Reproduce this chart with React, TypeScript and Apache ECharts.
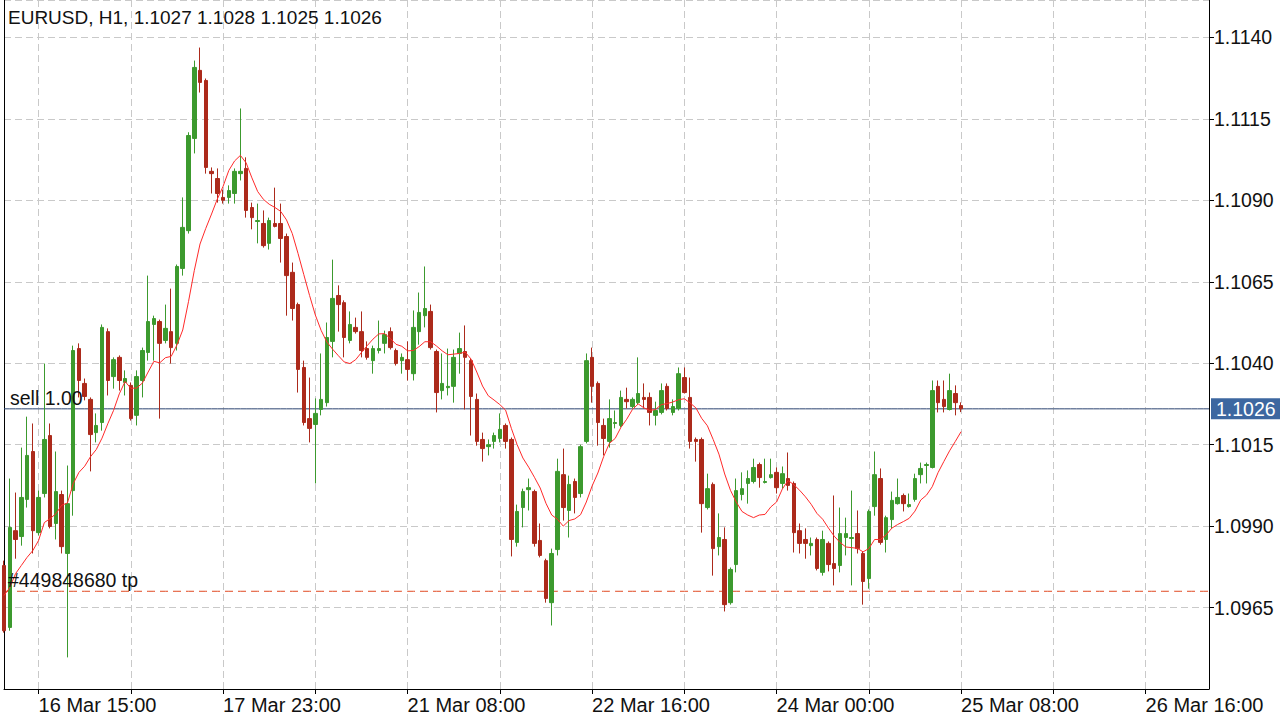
import React, { useEffect, useRef } from "react";
import * as echarts from "echarts";

const chartTitle = "EURUSD, H1, 1.1027 1.1028 1.1025 1.1026";

const opens = [
  1.09779, 1.09589, 1.09886, 1.09868, 1.09982, 1.10129, 1.09880, 1.10000, 1.10178, 1.09908,
  1.09997, 1.09816, 1.10009, 1.10445, 1.10338, 1.10289, 1.10187, 1.10218, 1.10497, 1.10359,
  1.10418, 1.10341, 1.10332, 1.10240, 1.10347, 1.10433, 1.10519, 1.10528, 1.10470, 1.10497,
  1.10461, 1.10691, 1.10807, 1.11090, 1.11299, 1.11268, 1.10989, 1.10967, 1.10909, 1.10909,
  1.10921, 1.10982, 1.10998, 1.10878, 1.10835, 1.10829, 1.10768, 1.10829, 1.10829, 1.10789,
  1.10679, 1.10580, 1.10387, 1.10230, 1.10212, 1.10258, 1.10279, 1.10467, 1.10608, 1.10586,
  1.10470, 1.10510, 1.10497, 1.10445, 1.10408, 1.10439, 1.10461, 1.10497, 1.10439, 1.10408,
  1.10411, 1.10368, 1.10497, 1.10546, 1.10559, 1.10436, 1.10316, 1.10325, 1.10329, 1.10430,
  1.10436, 1.10408, 1.10289, 1.10166, 1.10144, 1.10160, 1.10169, 1.10209, 1.10166, 1.09850,
  1.09957, 1.10012, 1.10006, 1.09856, 1.09794, 1.09665, 1.09828, 1.10058, 1.09948, 1.10037,
  1.10000, 1.10160, 1.10418, 1.10338, 1.10209, 1.10160, 1.10215, 1.10209, 1.10289, 1.10267,
  1.10279, 1.10295, 1.10295, 1.10240, 1.10249, 1.10329, 1.10249, 1.10261, 1.10356, 1.10295,
  1.10166, 1.10166, 1.09957, 1.10028, 1.09837, 1.09859, 1.09665, 1.09782, 1.09997, 1.10031,
  1.10037, 1.10089, 1.10034, 1.10049, 1.10065, 1.10031, 1.10046, 1.10031, 1.09886, 1.09859,
  1.09840, 1.09859, 1.09758, 1.09847, 1.09785, 1.09779, 1.09865, 1.09862, 1.09877, 1.09816,
  1.09739, 1.09960, 1.10046, 1.09859, 1.09920, 1.09969, 1.09994, 1.09960, 1.09982, 1.10058,
  1.10086, 1.10080, 1.10329, 1.10289, 1.10258, 1.10307, 1.10270,
];

const closes = [
  1.09579, 1.09896, 1.09859, 1.09988, 1.10117, 1.09886, 1.09988, 1.10166, 1.09899, 1.10006,
  1.09837, 1.09969, 1.10439, 1.10347, 1.10298, 1.10181, 1.10209, 1.10510, 1.10347, 1.10411,
  1.10347, 1.10353, 1.10230, 1.10359, 1.10439, 1.10528, 1.10537, 1.10461, 1.10507, 1.10448,
  1.10697, 1.10817, 1.11099, 1.11308, 1.11262, 1.11001, 1.10982, 1.10921, 1.10900, 1.10930,
  1.10989, 1.10989, 1.10869, 1.10847, 1.10838, 1.10761, 1.10838, 1.10820, 1.10783, 1.10669,
  1.10568, 1.10381, 1.10218, 1.10200, 1.10246, 1.10289, 1.10479, 1.10599, 1.10580, 1.10479,
  1.10519, 1.10497, 1.10439, 1.10418, 1.10445, 1.10445, 1.10488, 1.10448, 1.10399, 1.10418,
  1.10381, 1.10510, 1.10556, 1.10568, 1.10448, 1.10310, 1.10338, 1.10329, 1.10418, 1.10445,
  1.10418, 1.10298, 1.10160, 1.10138, 1.10150, 1.10178, 1.10197, 1.10160, 1.09859, 1.09945,
  1.10006, 1.10018, 1.09847, 1.09810, 1.09678, 1.09816, 1.10068, 1.09957, 1.10028, 1.09988,
  1.10144, 1.10408, 1.10329, 1.10218, 1.10169, 1.10230, 1.10218, 1.10295, 1.10282, 1.10289,
  1.10307, 1.10289, 1.10249, 1.10255, 1.10316, 1.10261, 1.10267, 1.10368, 1.10310, 1.10160,
  1.10160, 1.09969, 1.10015, 1.09831, 1.09865, 1.09659, 1.09767, 1.10009, 1.10015, 1.10046,
  1.10080, 1.10049, 1.10037, 1.10058, 1.10018, 1.10061, 1.10025, 1.09880, 1.09847, 1.09847,
  1.09847, 1.09770, 1.09859, 1.09782, 1.09770, 1.09877, 1.09877, 1.09865, 1.09831, 1.09730,
  1.09945, 1.10058, 1.09850, 1.09926, 1.09979, 1.09988, 1.09969, 1.09966, 1.10046, 1.10077,
  1.10089, 1.10316, 1.10279, 1.10267, 1.10316, 1.10279, 1.10260,
];

const lows = [
  1.09573, 1.09579, 1.09800, 1.09840, 1.09957, 1.09816, 1.09871, 1.09988, 1.09893, 1.09859,
  1.09816, 1.09497, 1.09932, 1.10295, 1.10286, 1.10068, 1.10157, 1.10193, 1.10301, 1.10322,
  1.10316, 1.10301, 1.10224, 1.10209, 1.10295, 1.10408, 1.10408, 1.10230, 1.10461, 1.10399,
  1.10439, 1.10669, 1.10798, 1.11044, 1.11231, 1.10982, 1.10921, 1.10893, 1.10890, 1.10890,
  1.10890, 1.10961, 1.10847, 1.10811, 1.10768, 1.10755, 1.10749, 1.10817, 1.10709, 1.10546,
  1.10531, 1.10310, 1.10209, 1.10157, 1.10031, 1.10240, 1.10267, 1.10418, 1.10497, 1.10418,
  1.10461, 1.10491, 1.10418, 1.10411, 1.10368, 1.10430, 1.10430, 1.10442, 1.10393, 1.10368,
  1.10347, 1.10347, 1.10457, 1.10510, 1.10442, 1.10249, 1.10289, 1.10301, 1.10279, 1.10368,
  1.10258, 1.10178, 1.10147, 1.10098, 1.10117, 1.10138, 1.10157, 1.10138, 1.09807, 1.09837,
  1.09896, 1.09948, 1.09837, 1.09804, 1.09665, 1.09595, 1.09810, 1.09917, 1.09865, 1.09939,
  1.09988, 1.10154, 1.10279, 1.10147, 1.10117, 1.10141, 1.10200, 1.10203, 1.10261, 1.10261,
  1.10273, 1.10261, 1.10209, 1.10209, 1.10243, 1.10255, 1.10240, 1.10255, 1.10307, 1.10138,
  1.10098, 1.09880, 1.09951, 1.09748, 1.09810, 1.09638, 1.09659, 1.09758, 1.09979, 1.09969,
  1.10031, 1.10018, 1.10031, 1.10046, 1.10000, 1.10015, 1.10009, 1.09819, 1.09816, 1.09800,
  1.09810, 1.09764, 1.09748, 1.09761, 1.09718, 1.09758, 1.09810, 1.09718, 1.09816, 1.09659,
  1.09708, 1.09932, 1.09843, 1.09819, 1.09893, 1.09966, 1.09945, 1.09957, 1.09975, 1.10031,
  1.10031, 1.10077, 1.10249, 1.10249, 1.10255, 1.10240, 1.10250,
];

const highs = [
  1.09794, 1.10046, 1.10003, 1.10141, 1.10236, 1.10215, 1.10009, 1.10399, 1.10215, 1.10129,
  1.10009, 1.10086, 1.10454, 1.10461, 1.10353, 1.10295, 1.10246, 1.10519, 1.10507, 1.10418,
  1.10424, 1.10378, 1.10341, 1.10378, 1.10448, 1.10669, 1.10546, 1.10534, 1.10580, 1.10629,
  1.10703, 1.10909, 1.11109, 1.11329, 1.11369, 1.11274, 1.11001, 1.10998, 1.10933, 1.10946,
  1.10998, 1.11182, 1.11032, 1.10893, 1.10890, 1.10869, 1.10847, 1.10939, 1.10890, 1.10798,
  1.10709, 1.10586, 1.10408, 1.10356, 1.10292, 1.10430, 1.10525, 1.10718, 1.10639, 1.10593,
  1.10559, 1.10540, 1.10559, 1.10467, 1.10454, 1.10531, 1.10500, 1.10510, 1.10445, 1.10430,
  1.10467, 1.10562, 1.10617, 1.10697, 1.10580, 1.10442, 1.10430, 1.10445, 1.10442, 1.10494,
  1.10516, 1.10414, 1.10307, 1.10187, 1.10166, 1.10187, 1.10246, 1.10215, 1.10172, 1.09966,
  1.10015, 1.10046, 1.10012, 1.09908, 1.09800, 1.09831, 1.10107, 1.10138, 1.10055, 1.10046,
  1.10150, 1.10430, 1.10448, 1.10344, 1.10230, 1.10289, 1.10255, 1.10316, 1.10325, 1.10295,
  1.10418, 1.10338, 1.10310, 1.10282, 1.10338, 1.10338, 1.10289, 1.10387, 1.10387, 1.10356,
  1.10172, 1.10172, 1.10061, 1.10034, 1.09939, 1.09896, 1.09773, 1.10046, 1.10065, 1.10071,
  1.10107, 1.10095, 1.10107, 1.10107, 1.10080, 1.10083, 1.10126, 1.10037, 1.09908, 1.09893,
  1.09865, 1.09865, 1.09886, 1.09853, 1.09994, 1.09957, 1.09926, 1.10009, 1.09948, 1.09822,
  1.09951, 1.10129, 1.10077, 1.09932, 1.10006, 1.10046, 1.10000, 1.10000, 1.10061, 1.10095,
  1.10095, 1.10347, 1.10347, 1.10347, 1.10368, 1.10332, 1.10280,
];

// moving-average values before a full 10-bar window is available
const maHead = [1.09687, 1.09711, 1.09754, 1.09779, 1.09804, 1.09825, 1.09856, 1.09911, 1.09923];
const maPeriod = 10;

const slotCount = 210; // bars + empty future slots shown on the time axis
const tickLabels = ["16 Mar 15:00", "17 Mar 23:00", "21 Mar 08:00", "22 Mar 16:00", "24 Mar 00:00", "25 Mar 08:00", "26 Mar 16:00"];
const firstTickSlot = 6;
const labelStep = 32;
const tickStep = 16;

const priceMin = 1.094;
const priceMax = 1.11515;
const priceStep = 0.0025;

const sellPrice = 1.1026;
const sellLabel = "sell 1.00";
const tpPrice = 1.097;
const tpLabel = "#449848680 tp";

const FONT = "'Liberation Sans', Arial, Helvetica, sans-serif";
const UP = "#3c9a2e";
const DOWN = "#ac2a1b";
const SELL_LINE = "#2c4470";
const TP_LINE = "#e04a22";

export default function App() {
  const ref = useRef<HTMLDivElement>(null);

  useEffect(() => {
    if (!ref.current) return;
    const chart = echarts.init(ref.current, undefined, { renderer: "svg" });

    const categories = Array.from({ length: slotCount }, (_, i) => String(i));
    const candles = opens.map((o, i) => [o, closes[i], lows[i], highs[i]]);
    const ma = closes.map((_, i) => {
      if (i < maPeriod - 1) return maHead[i];
      let s = 0;
      for (let j = i - maPeriod + 1; j <= i; j++) s += closes[j];
      return +(s / maPeriod).toFixed(5);
    });
    // horizontal order levels across the whole time axis
    const tpLevel = categories.map(() => tpPrice);
    const sellLevel = categories.map(() => sellPrice);

    const isTick = (i: number) => i >= firstTickSlot && (i - firstTickSlot) % tickStep === 0;
    const isLabel = (i: number) => i >= firstTickSlot && (i - firstTickSlot) % labelStep === 0;

    const dash = { color: "#c9c9c9", width: 1, type: [7, 4] as any };
    const lineLabelStyle = { fontFamily: FONT, fontSize: 19.5, color: "#111111" };
    const hiddenLine = { width: 0 };

    chart.setOption({
      animation: false,
      backgroundColor: "#ffffff",
      title: {
        text: chartTitle,
        left: 8,
        top: 8,
        padding: 0,
        textStyle: { fontFamily: FONT, fontSize: 19, fontWeight: "normal", color: "#111111" },
      },
      grid: { left: 4, right: 71, top: 0, bottom: 31, containLabel: false },
      xAxis: {
        type: "category",
        data: categories,
        boundaryGap: false,
        axisLine: { show: true, onZero: false, lineStyle: { color: "#000000", width: 1 } },
        axisTick: { show: true, length: 5, interval: (i: number) => isTick(i), lineStyle: { color: "#000000" } },
        axisLabel: {
          interval: (i: number) => isLabel(i),
          formatter: (v: string) => {
            const i = Number(v);
            return isLabel(i) ? tickLabels[(i - firstTickSlot) / labelStep] ?? "" : "";
          },
          align: "left",
          margin: 6,
          fontFamily: FONT,
          fontSize: 20,
          color: "#111111",
        },
        splitLine: { show: true, interval: (i: number) => isTick(i), lineStyle: dash },
      },
      yAxis: [
        {
          type: "value",
          position: "right",
          min: priceMin,
          max: priceMax,
          interval: priceStep,
          axisLine: { show: true, lineStyle: { color: "#000000", width: 1 } },
          axisTick: { show: true, length: 5, lineStyle: { color: "#000000" } },
          axisLabel: {
            showMinLabel: false,
            showMaxLabel: false,
            formatter: (v: number) => v.toFixed(4),
            margin: 5,
            fontFamily: FONT,
            fontSize: 19.5,
            color: "#111111",
          },
          splitLine: { show: true, lineStyle: dash },
        },
        {
          type: "value",
          position: "left",
          min: priceMin,
          max: priceMax,
          axisLine: { show: true, lineStyle: { color: "#000000", width: 1 } },
          axisTick: { show: false },
          axisLabel: { show: false },
          splitLine: { show: false },
        },
      ],
      series: [
        {
          name: "tp",
          type: "line",
          yAxisIndex: 0,
          data: tpLevel,
          symbol: "none",
          silent: true,
          color: TP_LINE,
          lineStyle: { color: TP_LINE, width: 1, type: [8, 5] },
          z: 1,
          markLine: {
            silent: true,
            precision: 5,
            symbol: ["none", "none"],
            lineStyle: hiddenLine,
            data: [
              {
                yAxis: tpPrice,
                lineStyle: hiddenLine,
                label: {
                  show: true,
                  position: "insideStartTop",
                  formatter: tpLabel,
                  distance: [4, 1],
                  ...lineLabelStyle,
                },
              },
            ],
          },
        },
        {
          name: "sell",
          type: "line",
          yAxisIndex: 0,
          data: sellLevel,
          symbol: "none",
          silent: true,
          color: SELL_LINE,
          lineStyle: { color: SELL_LINE, width: 1, type: "solid" },
          z: 1,
          markLine: {
            silent: true,
            precision: 5,
            symbol: ["none", "none"],
            lineStyle: hiddenLine,
            data: [
              {
                yAxis: sellPrice,
                lineStyle: hiddenLine,
                label: {
                  show: true,
                  position: "insideStartTop",
                  formatter: sellLabel,
                  distance: [6, 1],
                  ...lineLabelStyle,
                },
              },
              {
                yAxis: sellPrice,
                lineStyle: hiddenLine,
                label: {
                  show: true,
                  position: "end",
                  formatter: sellPrice.toFixed(4),
                  distance: 2,
                  backgroundColor: "#3d67a0",
                  color: "#ffffff",
                  padding: [1, 10, 0, 5],
                  lineHeight: 20,
                  fontFamily: FONT,
                  fontSize: 19.5,
                },
              },
            ],
          },
        },
        {
          type: "candlestick",
          yAxisIndex: 0,
          data: candles,
          barWidth: 4,
          itemStyle: {
            color: UP,
            color0: DOWN,
            borderColor: UP,
            borderColor0: DOWN,
            borderWidth: 1,
          },
          z: 2,
        },
        {
          type: "line",
          yAxisIndex: 0,
          data: ma,
          showSymbol: false,
          symbol: "none",
          smooth: false,
          color: "#ff2a2a",
          lineStyle: { color: "#ff2a2a", width: 1 },
          z: 3,
        },
      ],
    });

    return () => chart.dispose();
  }, []);

  return (
    <div
      ref={ref}
      style={{ position: "fixed", left: 0, top: 0, width: 1280, height: 720, background: "#ffffff" }}
    />
  );
}
